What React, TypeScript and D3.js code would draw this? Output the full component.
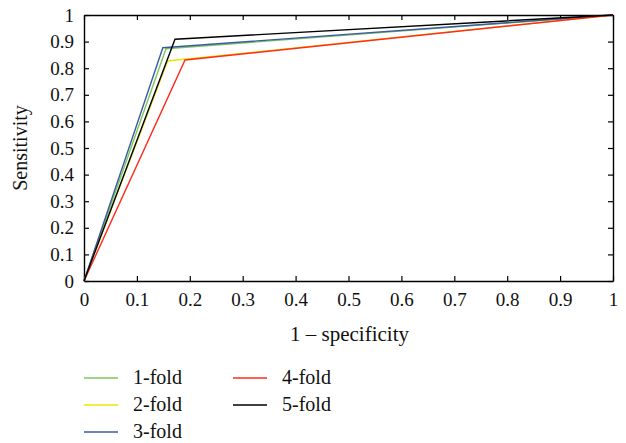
import React, { useEffect, useRef } from 'react'
import * as d3 from 'd3'

// ROC points per fold: [1 - specificity, sensitivity]
const fold1 = [[0, 0], [0.155, 0.873], [1, 1]]
const fold2 = [[0, 0], [0.158, 0.827], [1, 1]]
const fold3 = [[0, 0], [0.149, 0.877], [1, 1]]
const fold4 = [[0, 0], [0.191, 0.831], [1, 1]]
const fold5 = [[0, 0], [0.172, 0.909], [1, 1]]

const foldNames = ['1-fold', '2-fold', '3-fold', '4-fold', '5-fold']
const foldColors = ['#7cc85a', '#f0e400', '#3d5aa6', '#ff2a1c', '#000000']
const tickValues = [0, 0.1, 0.2, 0.3, 0.4, 0.5, 0.6, 0.7, 0.8, 0.9, 1]

const FONT = 'Liberation Serif, Times New Roman, serif'

export default function App() {
  const ref = useRef<SVGSVGElement>(null)

  useEffect(() => {
    const width = 626
    const height = 443
    const margin = { top: 15, right: 13, bottom: 162, left: 84 }

    const svg = d3.select(ref.current)
    svg.selectAll('*').remove()

    const x = d3.scaleLinear().domain([0, 1]).range([margin.left, width - margin.right])
    const y = d3.scaleLinear().domain([0, 1]).range([height - margin.bottom, margin.top])

    const fmt = (d: any) => String(d)

    // bottom axis
    svg
      .append('g')
      .attr('transform', `translate(0,${y(0)})`)
      .call(d3.axisBottom(x).tickValues(tickValues).tickSize(-5).tickSizeOuter(0).tickPadding(12).tickFormat(fmt))
      .call(g => g.selectAll('text').attr('dy', '0.71em'))

    // top axis
    svg
      .append('g')
      .attr('transform', `translate(0,${y(1)})`)
      .call(d3.axisTop(x).tickValues(tickValues).tickSize(-5).tickSizeOuter(0).tickFormat(() => ''))

    // left axis
    svg
      .append('g')
      .attr('transform', `translate(${x(0)},0)`)
      .call(d3.axisLeft(y).tickValues(tickValues).tickSize(-5).tickSizeOuter(0).tickPadding(10).tickFormat(fmt))

    // right axis
    svg
      .append('g')
      .attr('transform', `translate(${x(1)},0)`)
      .call(d3.axisRight(y).tickValues(tickValues).tickSize(-5).tickSizeOuter(0).tickFormat(() => ''))

    svg.selectAll('g').attr('font-family', null).attr('font-size', null)
    svg
      .selectAll('.domain')
      .attr('stroke', '#000')
      .attr('stroke-width', 1.4)
    svg.selectAll('.tick line').attr('stroke', '#000').attr('stroke-width', 1.2)
    svg
      .selectAll('.tick text')
      .attr('fill', '#111')
      .attr('font-family', FONT)
      .attr('font-size', 19)

    const line = d3
      .line()
      .x((d: any) => x(d[0]))
      .y((d: any) => y(d[1]))

    const folds = [fold1, fold2, fold3, fold4, fold5]
    svg
      .append('g')
      .selectAll('path')
      .data(folds)
      .join('path')
      .attr('d', (d: any) => line(d))
      .attr('fill', 'none')
      .attr('stroke', (d, i) => foldColors[i])
      .attr('stroke-width', 1.4)

    // axis titles
    svg
      .append('text')
      .attr('x', (x(0) + x(1)) / 2 + 1)
      .attr('y', 341)
      .attr('text-anchor', 'middle')
      .attr('font-family', FONT)
      .attr('font-size', 21)
      .attr('fill', '#111')
      .text('1 – specificity')

    svg
      .append('text')
      .attr('transform', `translate(27,${(y(0) + y(1)) / 2}) rotate(-90)`)
      .attr('text-anchor', 'middle')
      .attr('font-family', FONT)
      .attr('font-size', 20)
      .attr('fill', '#111')
      .text('Sensitivity')

    // legend
    const legend = svg
      .append('g')
      .selectAll('g')
      .data(foldNames)
      .join('g')
      .attr('transform', (d, i) => {
        const col = i < 3 ? 0 : 1
        const row = i < 3 ? i : i - 3
        return `translate(${84 + col * 149},${378 + row * 27})`
      })

    legend
      .append('line')
      .attr('x1', 0)
      .attr('x2', 34)
      .attr('stroke', (d, i) => foldColors[i])
      .attr('stroke-width', 1.4)

    legend
      .append('text')
      .attr('x', 49)
      .attr('dy', '0.32em')
      .attr('font-family', FONT)
      .attr('font-size', 20)
      .attr('fill', '#111')
      .text(d => d)
  }, [])

  return (
    <svg
      ref={ref}
      width={626}
      height={443}
      fontFamily={FONT}
      style={{ position: 'absolute', left: 0, top: 0, background: '#fff' }}
    />
  )
}
